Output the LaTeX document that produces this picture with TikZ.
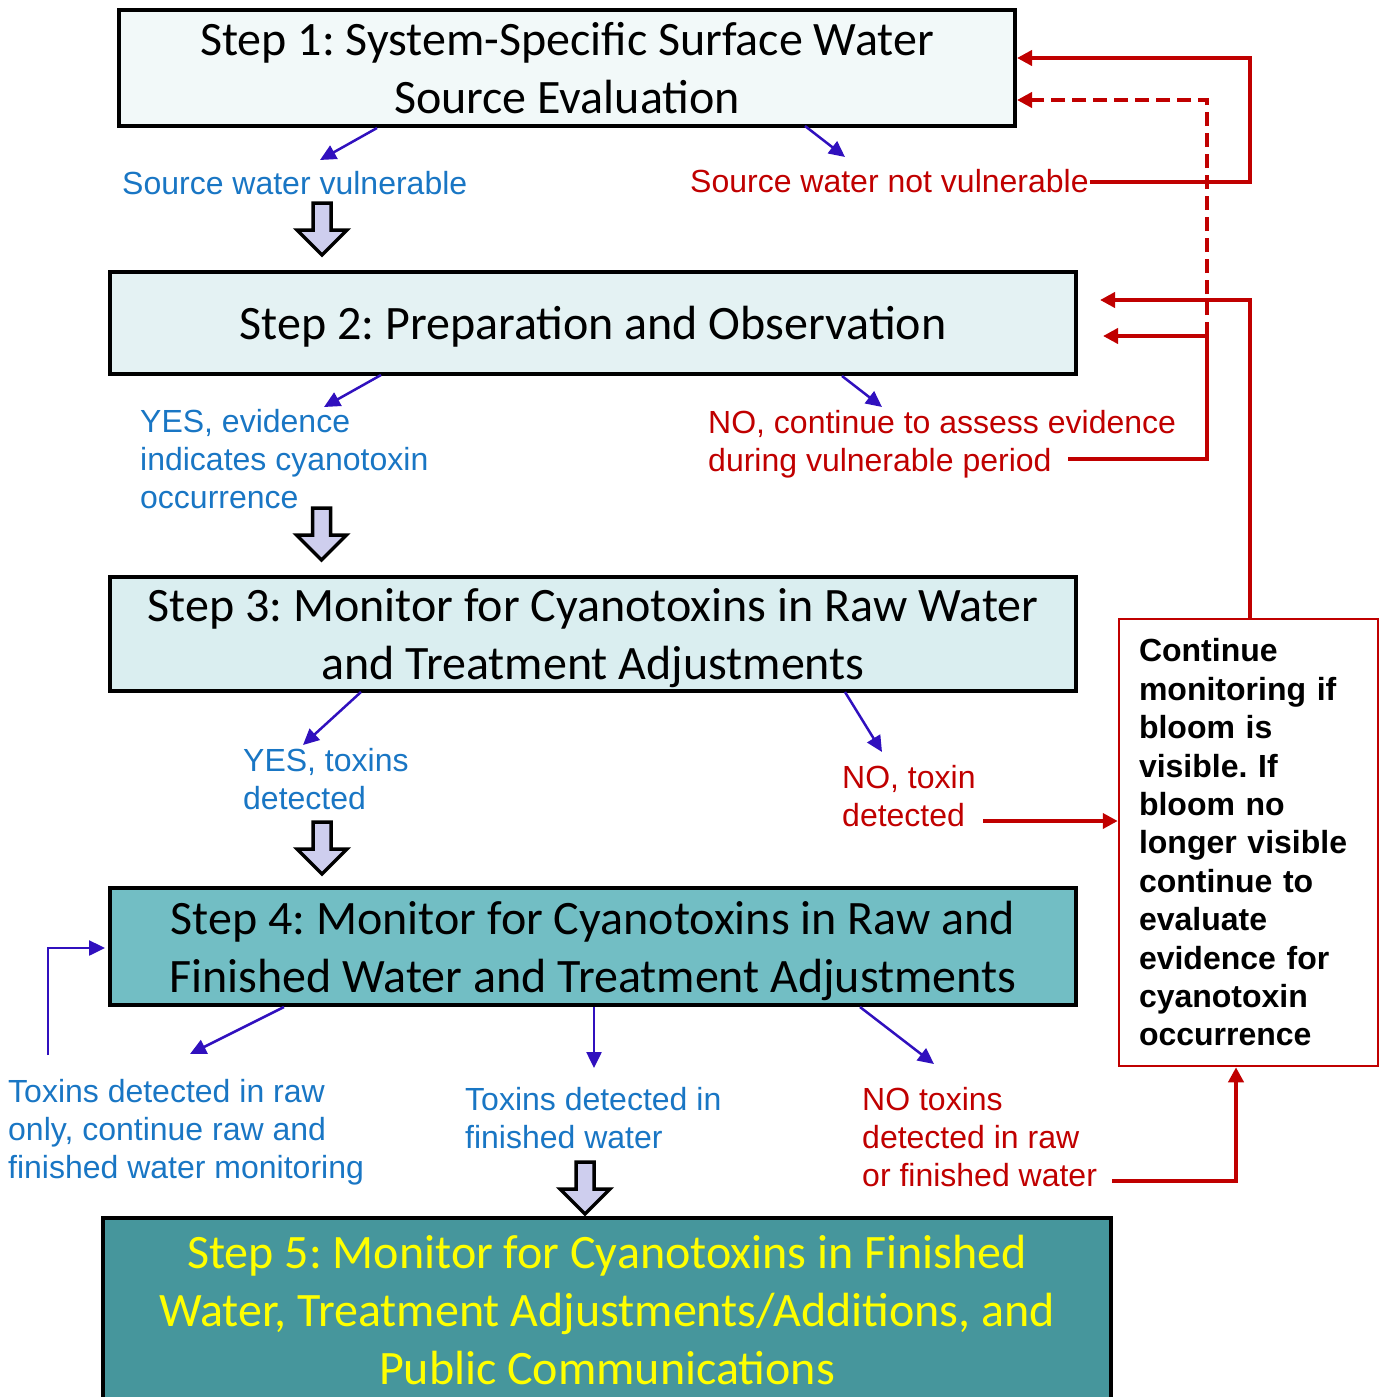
\documentclass[tikz,border=0pt]{standalone}
\usepackage{fontspec}
\usetikzlibrary{arrows.meta,calc}
\newfontfamily\calfont{Carlito}
\newfontfamily\labfont{Liberation Sans}
\frenchspacing
\definecolor{lblblue}{RGB}{25,118,196}
\definecolor{lblred}{RGB}{192,0,0}
\definecolor{arrblue}{RGB}{48,16,190}
\definecolor{fillA}{RGB}{242,249,249}
\definecolor{fillB}{RGB}{228,242,243}
\definecolor{fillC}{RGB}{218,238,240}
\definecolor{fillD}{RGB}{114,190,196}
\definecolor{fillE}{RGB}{70,150,156}
\definecolor{hollowfill}{RGB}{206,206,238}
\definecolor{ytext}{RGB}{255,255,0}
\tikzset{
  stepbox/.style={draw=black, line width=4pt, align=center, inner sep=0pt, text depth=0pt,
    font=\calfont\frenchspacing\fontsize{48}{58}\selectfont},
  bluelbl/.style={anchor=base west, align=left, inner sep=0pt, text=lblblue,
    font=\labfont\frenchspacing\fontsize{32}{38.4}\selectfont},
  redlbl/.style={anchor=base west, align=left, inner sep=0pt, text=lblred,
    font=\labfont\frenchspacing\fontsize{32}{38.4}\selectfont},
  thinarrow/.style={draw=arrblue, line width=2.5pt, -{Triangle[length=16pt,width=15pt]}},
  redline/.style={draw=lblred, line width=4pt},
  redarrow/.style={redline, -{Triangle[length=15pt,width=15pt]}},
  blockarrow/.pic={
    \draw[line width=3.5pt, line join=miter, fill=hollowfill]
      (-9,0) -- (9,0) -- (9,27) -- (25,27) -- (0,52) -- (-25,27) -- (-9,27) -- cycle;
  }
}
\begin{document}
\begin{tikzpicture}[x=1pt,y=-1pt]
\useasboundingbox (0,0) rectangle (1382,1397);

% step boxes
\node[stepbox, fill=fillA, minimum width=896pt, minimum height=115pt] (s1) at (567,68)
  {Step 1: System-Specific Surface Water\\Source Evaluation};
\node[stepbox, fill=fillB, minimum width=966pt, minimum height=102pt] (s2) at (593,323)
  {Step 2: Preparation and Observation};
\node[stepbox, fill=fillC, minimum width=966pt, minimum height=114pt] (s3) at (593,634)
  {Step 3: Monitor for Cyanotoxins in Raw Water\\and Treatment Adjustments};
\node[stepbox, fill=fillD, minimum width=966pt, minimum height=117pt] (s4) at (593,946.5)
  {Step 4: Monitor for Cyanotoxins in Raw and\\Finished Water and Treatment Adjustments};
\node[stepbox, fill=fillE, text=ytext, minimum width=1008pt, minimum height=184pt] (s5) at (607,1310)
  {Step 5: Monitor for Cyanotoxins in Finished\\Water, Treatment Adjustments/Additions, and\\Public Communications};

% side box
\node[draw=lblred, line width=2.5pt, fill=white, minimum width=259pt, minimum height=447pt,
      text width=219pt, align=left, inner xsep=20pt, inner ysep=0pt,
      font=\labfont\bfseries\frenchspacing\fontsize{32}{38.4}\selectfont] (side) at (1248.5,842.5)
  {Continue\\monitoring if\\bloom is\\visible. If\\bloom no\\longer visible\\continue to\\evaluate\\evidence for\\cyanotoxin\\occurrence};

% labels (base anchor = baseline of last line)
\node[bluelbl] (la) at (122,194) {Source water vulnerable};
\node[redlbl]  (lb) at (690,192) {Source water not vulnerable};
\node[bluelbl] (lc) at (140,508.8) {YES, evidence\\indicates cyanotoxin\\occurrence};
\node[redlbl]  (ld) at (708,471.4) {NO, continue to assess evidence\\during vulnerable period};
\node[bluelbl] (le) at (243,809.4) {YES, toxins\\detected};
\node[redlbl]  (lf) at (842,826.4) {NO, toxin\\detected};
\node[bluelbl] (lg) at (8,1178.8) {Toxins detected in raw\\only, continue raw and\\finished water monitoring};
\node[bluelbl] (lh) at (465,1148.4) {Toxins detected in\\finished water};
\node[redlbl]  (li) at (862,1186.8) {NO toxins\\detected in raw\\or finished water};

% block arrows
\pic at (322,203) {blockarrow};
\pic at (321.5,508) {blockarrow};
\pic at (322,822) {blockarrow};
\pic at (585,1162) {blockarrow};

% thin blue arrows
\coordinate (b1s) at (377,128);  \coordinate (b1e) at (320,160);
\coordinate (b2s) at (805,126);  \coordinate (b2e) at (845,157);
\coordinate (b3s) at (381,375);  \coordinate (b3e) at (324,407);
\coordinate (b4s) at (842,376);  \coordinate (b4e) at (882,407);
\coordinate (b5s) at (361,692);  \coordinate (b5e) at (303,745);
\coordinate (b6s) at (845,692);  \coordinate (b6e) at (882,752);
\coordinate (b7s) at (284,1007); \coordinate (b7e) at (190,1054);
\coordinate (b8s) at (594,1007); \coordinate (b8e) at (594,1068);
\coordinate (b9s) at (860,1007); \coordinate (b9e) at (934,1064);
\draw[thinarrow] (b1s) -- (b1e);
\draw[thinarrow] (b2s) -- (b2e);
\draw[thinarrow] (b3s) -- (b3e);
\draw[thinarrow] (b4s) -- (b4e);
\draw[thinarrow] (b5s) -- (b5e);
\draw[thinarrow] (b6s) -- (b6e);
\draw[thinarrow] (b7s) -- (b7e);
\draw[thinarrow] (b8s) -- (b8e);
\draw[thinarrow] (b9s) -- (b9e);
\coordinate (loopA) at (48,1055);
\coordinate (loopB) at (48,948);
\coordinate (loopC) at (105,948);
\draw[thinarrow] (loopA) -- (loopB) -- (loopC);

% red connectors
\coordinate (r1a) at (1090,182);
\coordinate (r1b) at (1250,58);
\draw[redarrow] (r1a) -| (r1b) -- (s1.east |- r1b);

\coordinate (r2a) at (1068,459);
\coordinate (r2b) at (1207,336);
\coordinate (r2tip) at (1103,336);
\coordinate (r2c) at (1207,100);
\draw[redarrow] (r2a) -| (r2b) -- (r2tip);
\draw[redarrow, dash pattern=on 14pt off 7pt] (r2b) -- (r2c) -- (s1.east |- r2c);

\coordinate (r3tip) at (1100,300);
\draw[redarrow] (side.north -| r1b) |- (r3tip);

\coordinate (r4a) at (983,821);
\draw[redarrow] (r4a) -- (side.west |- r4a);

\coordinate (r5a) at (1112,1181);
\coordinate (r5b) at (1236,1181);
\draw[redarrow] (r5a) -- (r5b) -- (r5b |- side.south);
\end{tikzpicture}
\end{document}
